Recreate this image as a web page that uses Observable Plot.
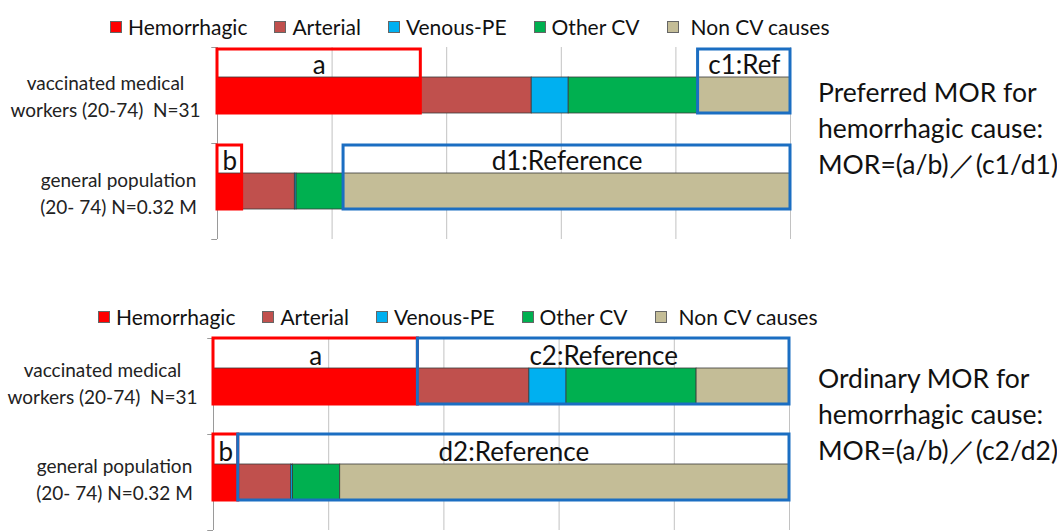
<!DOCTYPE html>
<html><head><meta charset="utf-8">
<script src="https://cdn.jsdelivr.net/npm/d3@7"></script>
<script src="https://cdn.jsdelivr.net/npm/@observablehq/plot@0.6"></script>
<style>
html,body{margin:0;padding:0;background:#fff}
body{width:1057px;height:532px;overflow:hidden;position:relative;font-family:Lato,"Open Sans",sans-serif;color:#111}
.legend{position:absolute;display:flex;align-items:center;font-size:21px;white-space:nowrap;line-height:24px}
.legend .item{display:flex;align-items:center;margin-right:27px}
.legend .sw{width:10px;height:10px;border:1px solid #666;margin-right:6px;box-sizing:content-box}
.note{position:absolute;left:818px;font-size:26.5px;line-height:36px;white-space:nowrap}
</style></head><body>
<script>
// ---- data ----
const causes = ["Hemorrhagic", "Arterial", "Venous-PE", "Other CV", "Non CV causes"];
const causeColors = ["#ff0000", "#c0504d", "#00b0f0", "#00b050", "#c4bd97"];
const groups = ["vaccinated medical\nworkers (20-74)\u00a0\u00a0N=31", "general population\n(20- 74) N=0.32 M"];
const vaccinatedDeaths = [11, 6, 2, 7, 5];            // N=31
const generalPopulationPct = [4.3, 9.2, 0.3, 8.2, 78.0]; // percent of deaths
const gridTicks = [20, 40, 60, 80, 100];
// annotation boxes: [label, group index, first cause, last cause, colour key]
const boxesPreferred = [
  ["a", 0, "Hemorrhagic", "Hemorrhagic", "red"],
  ["b", 1, "Hemorrhagic", "Hemorrhagic", "red"],
  ["c1:Ref", 0, "Non CV causes", "Non CV causes", "blue"],
  ["d1:Reference", 1, "Non CV causes", "Non CV causes", "blue"]
];
const boxesOrdinary = [
  ["a", 0, "Hemorrhagic", "Hemorrhagic", "red"],
  ["b", 1, "Hemorrhagic", "Hemorrhagic", "red"],
  ["c2:Reference", 0, "Arterial", "Non CV causes", "blue"],
  ["d2:Reference", 1, "Arterial", "Non CV causes", "blue"]
];
const notePreferred = ["Preferred MOR for", "hemorrhagic cause:", "MOR=(a/b)\uff0f(c1/d1)"];
const noteOrdinary = ["Ordinary MOR for", "hemorrhagic cause:", "MOR=(a/b)\uff0f(c2/d2)"];

// ---- derived table: cumulative percent shares ----
const segments = [];
[vaccinatedDeaths, generalPopulationPct].forEach((vals, gi) => {
  const total = d3.sum(vals);
  let acc = 0;
  vals.forEach((v, ci) => {
    const x1 = acc / total * 100; acc += v;
    segments.push({group: groups[gi], cause: causes[ci], x1, x2: acc / total * 100});
  });
});
const seg = (g, c) => segments.find(s => s.group === groups[g] && s.cause === c);
const boxColor = {red: "#ff0000", blue: "#1b6ec2"};

function panel(boxDefs, opts) {
  const boxes = boxDefs.map(([label, g, c1, c2, col]) => ({
    label, group: groups[g], x1: seg(g, c1).x1, x2: seg(g, c2).x2, color: boxColor[col]
  }));
  const bw = (opts.height - opts.marginTop - opts.marginBottom) / groups.length;
  return Plot.plot({
    width: 1057, height: opts.height,
    marginLeft: opts.marginLeft, marginRight: opts.marginRight,
    marginTop: opts.marginTop, marginBottom: opts.marginBottom,
    style: {fontFamily: "Lato, 'Open Sans', sans-serif", color: "#111", background: "transparent"},
    x: {domain: [0, 100], axis: null},
    y: {domain: groups, padding: 0, axis: null},
    color: {domain: causes, range: causeColors},
    marks: [
      Plot.ruleX(gridTicks, {stroke: "#c2c2c2", strokeWidth: 1}),
      Plot.ruleX([0], {stroke: "#9a9a9a", strokeWidth: 1}),
      Plot.ruleY(groups, {y: d => d, x1: -1, x2: 0, dy: -bw / 2, stroke: "#9a9a9a"}),
      Plot.ruleY(groups.slice(-1), {y: d => d, x1: -1, x2: 0, dy: bw / 2, stroke: "#9a9a9a"}),
      Plot.barX(segments, {x1: "x1", x2: "x2", y: "group", fill: "cause",
        stroke: "#3a3a3a", strokeWidth: 0.8, insetTop: opts.barInset, insetBottom: opts.barInset}),
      Plot.barX(boxes, {x1: "x1", x2: "x2", y: "group", fill: "none", stroke: "color",
        strokeWidth: 3, insetTop: opts.boxInsetTop, insetBottom: opts.barInset}),
      Plot.text(boxes, {x: d => (d.x1 + d.x2) / 2, y: "group", text: "label",
        dy: -30, fontSize: 26, fill: "#111"}),
      Plot.text(groups.slice(0, 1), {y: d => d, x: 0, text: d => d, dx: opts.labelDx[0], dy: opts.labelDy[0],
        textAnchor: "middle", fontSize: 19, lineHeight: 1.45, fill: "#222"}),
      Plot.text(groups.slice(1), {y: d => d, x: 0, text: d => d, dx: opts.labelDx[1], dy: opts.labelDy[1],
        textAnchor: "middle", fontSize: 19, lineHeight: 1.45, fill: "#222"})
    ]
  });
}

function legend(top, left) {
  const div = document.createElement("div");
  div.className = "legend";
  div.style.top = top + "px"; div.style.left = left + "px";
  causes.forEach((c, i) => {
    const it = document.createElement("div"); it.className = "item";
    const sw = document.createElement("span"); sw.className = "sw"; sw.style.background = causeColors[i];
    if (i === causes.length - 1) sw.style.marginRight = "12px";
    const tx = document.createElement("span"); tx.textContent = c;
    it.append(sw, tx); div.append(it);
  });
  document.body.append(div);
}
function note(lines, top) {
  const div = document.createElement("div");
  div.className = "note"; div.style.top = top + "px";
  div.innerHTML = lines.map(l => `<div>${l}</div>`).join("");
  document.body.append(div);
}
function place(el, top) {
  el.style.position = "absolute"; el.style.top = top + "px"; el.style.left = "0px";
  document.body.append(el);
}

legend(15, 110);
place(panel(boxesPreferred, {height: 204, marginLeft: 217, marginRight: 267, marginTop: 7, marginBottom: 5,
  barInset: 30, boxInsetTop: 2, labelDx: [-112, -99], labelDy: [-1, 0]}), 40);
note(notePreferred, 74);

legend(305, 98);
place(panel(boxesOrdinary, {height: 202, marginLeft: 213, marginRight: 268, marginTop: 8, marginBottom: 2,
  barInset: 30, boxInsetTop: 0, labelDx: [-111, -99], labelDy: [-5, -5]}), 330);
note(noteOrdinary, 360);
</script>
</body></html>
